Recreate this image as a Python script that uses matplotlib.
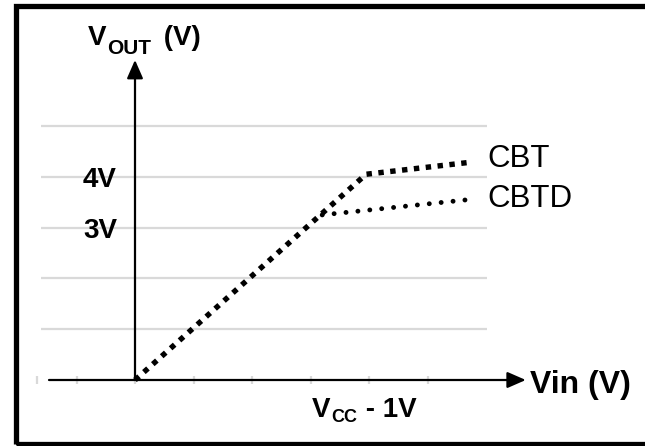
import matplotlib
matplotlib.use("Agg")
import matplotlib.pyplot as plt
from matplotlib.patches import Rectangle

# -----------------------------
# Data (schematic transfer curves)
# -----------------------------
grid_levels = [1, 2, 3, 4, 5]
tick_positions = [-1.68, -1.0, 0, 1, 2, 3, 4, 5]
level_labels = ["4V", "3V"]
level_values = [4, 3]

cbt_vin = [0.0, 3.95, 5.76]
cbt_vout = [0.0, 4.05, 4.29]

cbtd_vin = [3.2, 5.78]
cbtd_vout = [3.25, 3.56]

plt.rcParams["font.family"] = ["Liberation Sans", "DejaVu Sans"]

fig = plt.figure(figsize=(6.45, 4.46), dpi=100)
ax = fig.add_axes([0, 0, 1, 1])
ax.set_xlim(-135 / 58.5, 510 / 58.5)
ax.set_ylim(-66 / 50.8, 380 / 50.8)
ax.axis("off")


def sub_label(x, y, main, sub, rest, size, subsize, drop, gap=0.5):
    # main letter, subscript, then the remaining text, chained together
    t1 = ax.text(x, y, main, fontsize=size, fontweight="bold",
                 ha="left", va="baseline")
    t2 = ax.annotate(sub, xy=(1, 0), xycoords=t1, xytext=(0.5, -drop),
                     textcoords="offset points", fontsize=subsize,
                     fontweight="bold", ha="left", va="bottom")
    t3 = ax.annotate(rest, xy=(1, 0), xycoords=t2, xytext=(gap, drop),
                     textcoords="offset points", fontsize=size,
                     fontweight="bold", ha="left", va="bottom")
    return t1, t2, t3


# -----------------------------
# Grid + ticks
# -----------------------------
ax.hlines(grid_levels, -1.6, 6.02, color="#d9d9d9", lw=1.6, zorder=0)
ax.vlines(tick_positions, -0.08, 0.08, color="#d9d9d9", lw=1.6, zorder=1)

# -----------------------------
# Axes with arrows
# -----------------------------
arrow_kw = dict(arrowstyle="-|>,head_length=0.8,head_width=0.35",
                mutation_scale=14, lw=1.6, color="black",
                shrinkA=0, shrinkB=0)
ax.annotate("", xy=(6.68, 0), xytext=(-1.47, 0), arrowprops=arrow_kw, zorder=2)
ax.annotate("", xy=(0, 6.30), xytext=(0, 0), arrowprops=arrow_kw, zorder=2)

# -----------------------------
# Curves
# -----------------------------
cbtd_line, = ax.plot(cbtd_vin, cbtd_vout, color="black", lw=3.5, zorder=3)
cbtd_line.set_dashes((0.01, 2.45))
cbtd_line.set_dash_capstyle("round")

cbt_line, = ax.plot(cbt_vin, cbt_vout, color="black", lw=3.9, zorder=4)
cbt_line.set_dashes((1, 1.2))
cbt_line.set_dash_capstyle("butt")

ax.text(6.03, 4.19, "CBT", fontsize=22.5, va="baseline", ha="left")
ax.text(6.03, 3.41, "CBTD", fontsize=22.5, va="baseline", ha="left")

# -----------------------------
# Labels
# -----------------------------
for lab, val in zip(level_labels, level_values):
    ax.text(-0.31, val - 0.2, lab, fontsize=20, fontweight="bold",
            ha="right", va="baseline")

sub_label(-0.80, 6.59, "V", "OUT", " (V)", 20, 15, 4.8, gap=3)
sub_label(3.03, -0.73, "V", "CC", " - 1V", 20, 13, 2)

ax.text(6.75, -0.26, "Vin (V)", fontsize=23, fontweight="bold",
        ha="left", va="baseline")

# -----------------------------
# Frame
# -----------------------------
frame = Rectangle((15.5 / 645, 2.5 / 446), 1.1, 438 / 446,
                  transform=fig.transFigure, fill=False,
                  edgecolor="black", lw=3.8, clip_on=False)
fig.add_artist(frame)

fig.savefig("out.png", dpi=100)
